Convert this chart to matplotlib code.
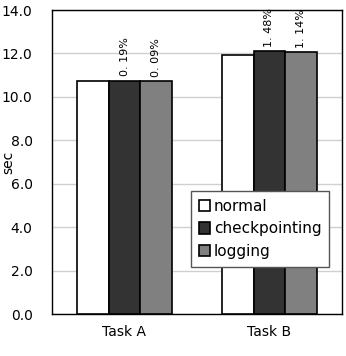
import matplotlib
matplotlib.use("Agg")
import matplotlib.pyplot as plt
import numpy as np

tasks = ["Task A", "Task B"]
series = ["normal", "checkpointing", "logging"]
normal = [10.72, 11.92]
checkpointing = [10.74, 12.10]
logging = [10.73, 12.06]
overhead_ckpt = ["0. 19%", "1. 48%"]
overhead_log = ["0. 09%", "1. 14%"]

colors = ["white", "#333333", "#808080"]

fig = plt.figure(figsize=(3.46, 3.56), dpi=100)
ax = fig.add_axes([52 / 346, 1 - 314 / 356, 290 / 346, 304 / 356])

x = np.arange(len(tasks))
w = 0.22
values = [normal, checkpointing, logging]
for i, (name, vals) in enumerate(zip(series, values)):
    ax.bar(x + (i - 1) * w, vals, w, color=colors[i], edgecolor="black",
           linewidth=1.2, label=name, zorder=3)

# overhead labels above the checkpointing / logging bars
for k in range(len(tasks)):
    ax.text(x[k], checkpointing[k] + 0.2, overhead_ckpt[k], rotation=90,
            ha="center", va="bottom", fontsize=8)
    ax.text(x[k] + w, logging[k] + 0.2, overhead_log[k], rotation=90,
            ha="center", va="bottom", fontsize=8)

ax.set_xlim(-0.5, 1.5)
ax.set_ylim(0, 14)
ax.set_yticks(np.arange(0, 14.1, 2))
ax.set_yticklabels([f"{v:.1f}" for v in np.arange(0, 14.1, 2)], fontsize=10)
ax.set_xticks(x)
ax.set_xticklabels(tasks, fontsize=10)
ax.tick_params(axis="both", length=0, pad=8)
ax.tick_params(axis="y", pad=14)
ax.grid(axis="y", color="#d0d0d0", linewidth=1.0, zorder=0)
for s in ax.spines.values():
    s.set_linewidth(1.0)
ax.set_ylabel("sec", fontsize=10, va="center")
ax.yaxis.set_label_coords(-0.152, 0.5)

leg = ax.legend(loc="upper left", bbox_to_anchor=((191 - 52) / 290, 1 - (191 - 10) / 304),
                fontsize=11, frameon=True, fancybox=False, edgecolor="#555555",
                framealpha=1, handlelength=0.75, handleheight=0.75, handletextpad=0.25,
                labelspacing=0.5, borderpad=0.5, borderaxespad=0)
leg.get_frame().set_linewidth(1.0)

fig.savefig("out.png", dpi=100)
